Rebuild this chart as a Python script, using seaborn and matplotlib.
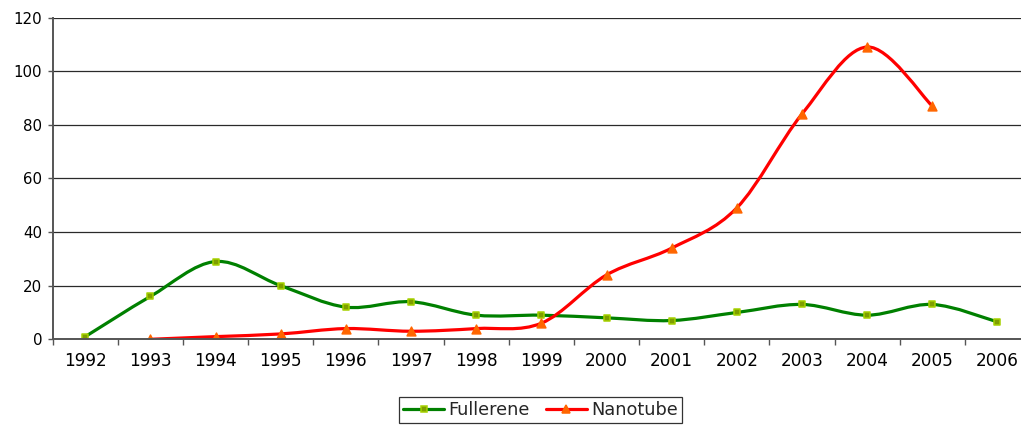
import numpy as np
import matplotlib
matplotlib.use('Agg')
import matplotlib.pyplot as plt
from matplotlib.path import Path
from matplotlib.patches import PathPatch
from matplotlib.lines import Line2D
import seaborn as sns

# ---- data ----
years = ['1992', '1993', '1994', '1995', '1996', '1997', '1998', '1999',
         '2000', '2001', '2002', '2003', '2004', '2005', '2006']
fullerene = [1, 16, 29, 20, 12, 14, 9, 9, 8, 7, 10, 13, 9, 13, 6.5]
nanotube = [np.nan, 0, 1, 2, 4, 3, 4, 6, 24, 34, 49, 84, 109, 87, np.nan]
series_names = ['Fullerene', 'Nanotube']
y_ticks = [0, 20, 40, 60, 80, 100, 120]

sns.set_theme(style='white')
plt.rcParams['font.family'] = ['DejaVu Sans']

W, H = 1021, 425
fig = plt.figure(figsize=(W / 100, H / 100), dpi=100)
left, right, top, bottom = 52.7, 1030.0, 17.5, 339.3
ax = fig.add_axes([left / W, 1 - bottom / H, (right - left) / W, (bottom - top) / H])


def smooth_path(xs, ys):
    pts = np.column_stack([xs, ys]).astype(float)
    n = len(pts)
    verts = [pts[0]]
    codes = [Path.MOVETO]
    for i in range(n - 1):
        p0 = pts[max(i - 1, 0)]
        p1 = pts[i]
        p2 = pts[i + 1]
        p3 = pts[min(i + 2, n - 1)]
        c1 = p1 + (p2 - p0) / 6.0
        c2 = p2 - (p3 - p1) / 6.0
        verts += [c1, c2, p2]
        codes += [Path.CURVE4] * 3
    return Path(verts, codes)


pos = np.arange(len(years))
styles = [
    dict(vals=fullerene, line='#008000', marker='s', mfc='#7E9E00', mec='#A6D100', s=20, ms=4.4),
    dict(vals=nanotube, line='#FF0000', marker='^', mfc='#FF6600', mec='#FF6600', s=40, ms=6.0),
]
handles = []
for k, st in enumerate(styles):
    v = np.array(st['vals'], dtype=float)
    ok = ~np.isnan(v)
    path = smooth_path(pos[ok], v[ok])
    patch = PathPatch(path, facecolor='none', edgecolor=st['line'], lw=2.3,
                      zorder=3 + 2 * k, capstyle='round', joinstyle='round')
    ax.add_patch(patch)
    sns.scatterplot(x=pos[ok], y=v[ok], marker=st['marker'], s=st['s'],
                    color=st['mfc'], edgecolor=st['mec'], linewidth=1.1,
                    zorder=4 + 2 * k, ax=ax, legend=False)
    handles.append(Line2D([], [], color=st['line'], lw=2.3, marker=st['marker'],
                          markersize=st['ms'], markerfacecolor=st['mfc'],
                          markeredgecolor=st['mec'], markeredgewidth=1.1))

ax.set_xlim(-0.5, len(years) - 0.5)
ax.set_ylim(0, 120)
ax.set_yticks(y_ticks)
ax.set_yticklabels([str(t) for t in y_ticks])
ax.set_xticks(pos)
ax.set_xticklabels(years)
ax.set_xticks(np.arange(-0.5, len(years), 1.0), minor=True)

ax.grid(axis='y', color='#2a2a2a', lw=0.9, zorder=1)
ax.set_axisbelow(True)
for s in ['top', 'right']:
    ax.spines[s].set_visible(False)
for s in ['left', 'bottom']:
    ax.spines[s].set_color('#555555')
    ax.spines[s].set_linewidth(1.4)
    ax.spines[s].set_zorder(10)

ax.tick_params(axis='x', which='major', length=0, pad=9, labelsize=12.2, colors='#000000')
ax.tick_params(axis='x', which='minor', length=4.3, width=1.0, color='#555555', direction='out', bottom=True)
ax.tick_params(axis='y', length=3.6, width=1.0, color='#555555', direction='out', left=True,
               pad=4, labelsize=10.8, labelcolor='#000000')
ax.set_xlabel('')
ax.set_ylabel('')

leg = fig.legend(handles, series_names, loc='center', bbox_to_anchor=(540.5 / W, 1 - 410 / H),
                 ncol=2, frameon=True, fancybox=False, edgecolor='#000000', fontsize=12.8,
                 handlelength=2.3, handletextpad=0.25, columnspacing=0.88,
                 borderpad=0.25, borderaxespad=0)
leg.get_frame().set_linewidth(0.9)

fig.savefig('out.png', dpi=100)
